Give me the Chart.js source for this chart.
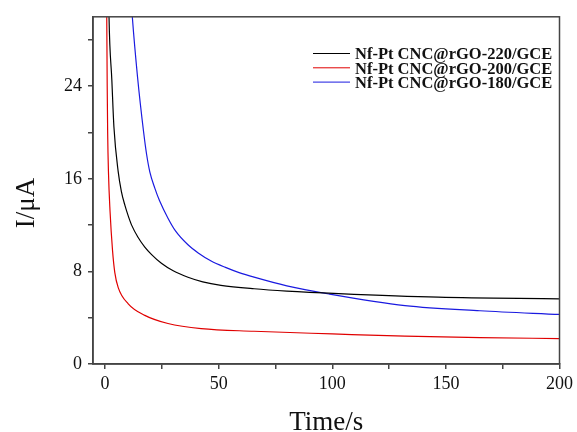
<!DOCTYPE html>
<html>
<head>
<meta charset="utf-8">
<script src="https://cdn.jsdelivr.net/npm/chart.js@4.4.1/dist/chart.umd.min.js"></script>
<style>
    body { margin: 0; background: #ffffff; }
    canvas { display: block; }
</style>
</head>
<body>
<canvas id="currentChart" width="577" height="432"></canvas>
<script>
const seriesNames = ['Nf-Pt CNC@rGO-220/GCE', 'Nf-Pt CNC@rGO-200/GCE', 'Nf-Pt CNC@rGO-180/GCE'];

const time220 = [1.2, 1.75, 3.0, 3.9, 5.8, 7.2, 8.75, 10.2, 11.7, 14.5, 17.5, 20.5, 24.8, 30, 36.5, 43, 51, 65.6, 80, 102.8, 146.6, 200];
const current220 = [38, 30, 24.5, 20.5, 16.6, 14.9, 13.7, 12.8, 12.0, 10.95, 10.1, 9.45, 8.7, 8.05, 7.5, 7.1, 6.8, 6.5, 6.3, 6.08, 5.77, 5.63];

const time200 = [0.6, 0.75, 0.95, 1.15, 1.5, 2.2, 3.3, 4.3, 5.8, 10.2, 17.5, 27.7, 42.3, 65.6, 100, 132, 165, 200];
const current200 = [36, 30, 24, 20, 16.6, 13.2, 9.8, 7.9, 6.6, 5.2, 4.2, 3.5, 3.05, 2.83, 2.6, 2.4, 2.28, 2.2];

const time180 = [11, 12, 14.3, 17.0, 18.3, 19.7, 21.9, 24, 27.7, 31, 36.5, 41, 46.7, 53, 59, 65.6, 80, 98.5, 132, 165, 200];
const current180 = [33, 30, 24.8, 20.0, 18.1, 16.6, 15.2, 14.1, 12.6, 11.5, 10.3, 9.6, 8.9, 8.35, 7.9, 7.5, 6.75, 6.05, 5.05, 4.6, 4.28];

const xTicks = [0, 25, 50, 75, 100, 125, 150, 175, 200];
const xLabels = [0, 50, 100, 150, 200];
const yTicks = [0, 4, 8, 12, 16, 20, 24, 28];
const yLabels = [0, 8, 16, 24];

const colors = ['#000000', '#e00000', '#1a1ae0'];
const serif = 'Liberation Serif';

document.addEventListener('DOMContentLoaded', function() {
    initChart();
});

function toPoints(xs, ys) {
    return xs.map((x, i) => ({ x: x, y: ys[i] }));
}

// box round the plot, axis titles and the legend inside the plot
const framePlugin = {
    id: 'frame',
    afterDraw: function(chart) {
        const ctx = chart.ctx;
        const area = chart.chartArea;
        ctx.save();
        ctx.strokeStyle = '#444444';
        ctx.lineWidth = 1.5;
        ctx.strokeRect(area.left, area.top, area.right - area.left, area.bottom - area.top);

        ctx.fillStyle = '#111111';
        ctx.font = '27px "' + serif + '"';
        ctx.textAlign = 'center';
        ctx.textBaseline = 'alphabetic';
        ctx.fillText('Time/s', (area.left + area.right) / 2, 430);

        ctx.translate(27, 203);
        ctx.rotate(-Math.PI / 2);
        ctx.textBaseline = 'middle';
        ctx.fillText('I/\u03bcA', 0, 0);
        ctx.restore();

        ctx.save();
        ctx.font = 'bold 16.5px "' + serif + '"';
        ctx.textAlign = 'left';
        ctx.textBaseline = 'alphabetic';
        seriesNames.forEach(function(name, i) {
            const lineY = 53.5 + i * 14.3;
            ctx.strokeStyle = colors[i];
            ctx.lineWidth = 1;
            ctx.beginPath();
            ctx.moveTo(313, lineY);
            ctx.lineTo(350, lineY);
            ctx.stroke();
            ctx.fillStyle = '#111111';
            ctx.fillText(name, 355, lineY + 5.7);
        });
        ctx.restore();
    }
};

function initChart() {
    const ctx = document.getElementById('currentChart');
    const series = [
        toPoints(time220, current220),
        toPoints(time200, current200),
        toPoints(time180, current180)
    ];

    new Chart(ctx, {
        type: 'line',
        data: {
            datasets: series.map((pts, i) => ({
                label: seriesNames[i],
                data: pts,
                borderColor: colors[i],
                borderWidth: 1.2,
                pointRadius: 0,
                fill: false,
                cubicInterpolationMode: 'monotone'
            }))
        },
        options: {
            responsive: false,
            animation: false,
            layout: {
                padding: { top: 15, right: 14, left: 0, bottom: 0 }
            },
            plugins: {
                legend: { display: false },
                tooltip: { enabled: false }
            },
            scales: {
                x: {
                    type: 'linear',
                    min: -5.3,
                    max: 200,
                    afterFit: function(scale) { scale.height = 68; },
                    afterBuildTicks: function(scale) {
                        scale.ticks = xTicks.map(v => ({ value: v }));
                    },
                    border: { color: '#444444', width: 1.5 },
                    grid: { drawOnChartArea: false, color: '#444444', lineWidth: 1.5, tickLength: 5 },
                    ticks: {
                        autoSkip: false,
                        maxRotation: 0,
                        padding: 4,
                        color: '#111111',
                        font: { family: serif, size: 18 },
                        callback: function(value) {
                            return xLabels.includes(value) ? String(value) : '';
                        }
                    }
                },
                y: {
                    type: 'linear',
                    min: 0,
                    max: 30,
                    afterFit: function(scale) { scale.width = 93; },
                    afterBuildTicks: function(scale) {
                        scale.ticks = yTicks.map(v => ({ value: v }));
                    },
                    border: { color: '#444444', width: 1.5 },
                    grid: { drawOnChartArea: false, color: '#444444', lineWidth: 1.5, tickLength: 5 },
                    ticks: {
                        autoSkip: false,
                        padding: 6,
                        color: '#111111',
                        font: { family: serif, size: 18 },
                        callback: function(value) {
                            return yLabels.includes(value) ? String(value) : '';
                        }
                    }
                }
            }
        },
        plugins: [framePlugin]
    });
}
</script>
</body>
</html>
